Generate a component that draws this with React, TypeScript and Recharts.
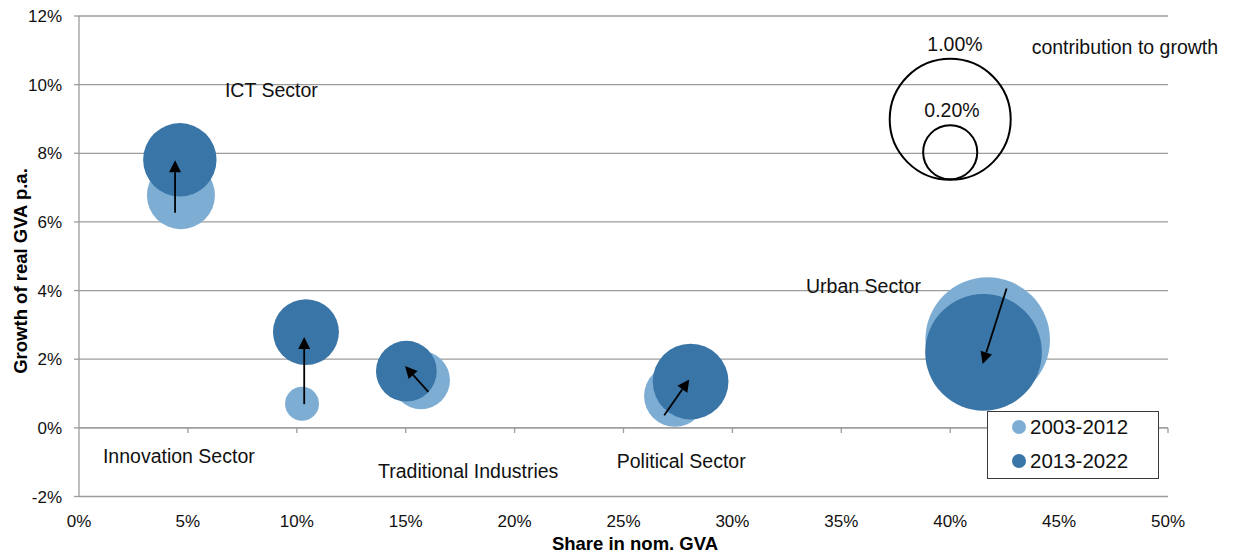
import React from 'react';
import {
  ScatterChart,
  Scatter,
  XAxis,
  YAxis,
  ZAxis,
  CartesianGrid,
  ReferenceLine,
  Legend,
} from 'recharts';

const FONT = '"Liberation Sans", Arial, sans-serif';
const GRID = '#9c9c9c';

// sectors, in the order of the bubbles from left to right
const sectors = ['ICT Sector', 'Innovation Sector', 'Traditional Industries', 'Political Sector', 'Urban Sector'];

// 2003-2012: share in nominal GVA (%), real growth p.a. (%), contribution to growth (pp)
const share0312 = [4.68, 10.24, 15.7, 27.36, 41.72];
const growth0312 = [6.78, 0.7, 1.39, 0.93, 2.57];
const contrib0312 = [0.316, 0.079, 0.23, 0.26, 1.06];

// 2013-2022
const share1322 = [4.63, 10.42, 15.03, 28.08, 41.53];
const growth1322 = [7.81, 2.79, 1.65, 1.35, 2.2];
const contrib1322 = [0.368, 0.297, 0.252, 0.392, 0.929];

// arrows (start -> tip) drawn over the bubbles
const arrowFromX = [4.41, 10.34, 16.04, 26.87, 42.59];
const arrowFromY = [6.27, 0.69, 1.05, 0.37, 4.06];
const arrowToX = [4.41, 10.34, 14.97, 28.02, 41.49];
const arrowToY = [7.8, 2.65, 1.8, 1.41, 1.86];

// sector name labels (left edge / vertical centre)
const labelX = [6.7, 1.1, 13.73, 24.69, 33.38];
const labelY = [9.84, -0.82, -1.25, -0.96, 4.13];

// bubble size key
const keySizes = [1.0, 0.2];
const keyText = ['1.00%', '0.20%'];
const keyX = [40, 40];
const keyY = [8.99, 8.03];
const keyTextX = [40.22, 40.08];
const keyTextY = [11.17, 9.26];
const keyTitle = 'contribution to growth';
const keyTitleX = 43.74;
const keyTitleY = 11.1;

const xTicks = [0, 5, 10, 15, 20, 25, 30, 35, 40, 45, 50];
const yTicks = [-2, 0, 2, 4, 6, 8, 10, 12];

const series = [
  { name: '2003-2012', color: '#7eadd4' },
  { name: '2013-2022', color: '#3975a6' },
];

const data0312 = sectors.map((s, i) => ({ name: s, x: share0312[i], y: growth0312[i], z: contrib0312[i] }));
const data1322 = sectors.map((s, i) => ({ name: s, x: share1322[i], y: growth1322[i], z: contrib1322[i] }));
const keyData = keySizes.map((z, i) => ({ x: keyX[i], y: keyY[i], z }));
const sectorLabels = sectors.map((s, i) => ({ x: labelX[i], y: labelY[i], label: s }));
const keyLabels = [
  ...keyText.map((t, i) => ({ x: keyTextX[i], y: keyTextY[i], label: t, anchor: 'middle' })),
  { x: keyTitleX, y: keyTitleY, label: keyTitle, anchor: 'start' },
];

// 1.00% bubble has a radius of ~60.5px -> area scale
const AREA_PER_UNIT = Math.PI * 60.5 * 60.5;

const Arrow = (props: any) => {
  const { x1, y1, x2, y2 } = props;
  const dx = x2 - x1;
  const dy = y2 - y1;
  const len = Math.hypot(dx, dy) || 1;
  const ux = dx / len;
  const uy = dy / len;
  const head = 12;
  const half = 6;
  const bx = x2 - ux * head;
  const by = y2 - uy * head;
  return (
    <g>
      <line x1={x1} y1={y1} x2={bx} y2={by} stroke="#000" strokeWidth={1.8} />
      <polygon
        points={`${x2},${y2} ${bx - uy * half},${by + ux * half} ${bx + uy * half},${by - ux * half}`}
        fill="#000"
      />
    </g>
  );
};

const LabelText = (props: any) => (
  <text
    x={props.cx}
    y={props.cy}
    textAnchor={props.payload.anchor || 'start'}
    dominantBaseline="central"
    fontFamily={FONT}
    fontSize={19.5}
    fill="#111"
  >
    {props.payload.label}
  </text>
);

const renderLegend = () => (
  <div
    style={{
      position: 'relative',
      width: 172,
      height: 68,
      boxSizing: 'border-box',
      border: '1.5px solid #3a3a3a',
      background: '#fff',
      fontFamily: FONT,
      fontSize: 20.5,
      color: '#111',
    }}
  >
    {series.map((s, i) => (
      <div
        key={s.name}
        style={{ position: 'absolute', left: 0, top: 3 + i * 34, height: 24, lineHeight: '24px', whiteSpace: 'nowrap' }}
      >
        <span
          style={{
            position: 'absolute',
            left: 24,
            top: 5,
            width: 14,
            height: 14,
            borderRadius: 7,
            background: s.color,
          }}
        />
        <span style={{ position: 'absolute', left: 42, top: 0 }}>{s.name}</span>
      </div>
    ))}
  </div>
);

const yTitle = () => (
  <text
    x={20}
    y={271}
    transform="rotate(-90, 20, 271)"
    textAnchor="middle"
    dominantBaseline="central"
    fontFamily={FONT}
    fontWeight="bold"
    fontSize={18.5}
    fill="#000"
  >
    Growth of real GVA p.a.
  </text>
);

const xTitle = () => (
  <text
    x={635}
    y={543}
    textAnchor="middle"
    dominantBaseline="central"
    fontFamily={FONT}
    fontWeight="bold"
    fontSize={18.5}
    fill="#000"
  >
    Share in nom. GVA
  </text>
);

const App: React.FC = () => {
  return (
    <div style={{ position: 'absolute', left: 0, top: 0, fontFamily: FONT }}>
      <ScatterChart width={1233} height={554} margin={{ top: 16, right: 65, bottom: 0, left: 0 }}>
        <CartesianGrid vertical={false} stroke={GRID} strokeWidth={1.3} />
        <XAxis
          type="number"
          dataKey="x"
          domain={[0, 50]}
          ticks={xTicks}
          tickFormatter={(v: number) => `${v}%`}
          axisLine={false}
          tickLine={false}
          tickSize={5}
          tickMargin={13}
          height={57.5}
          tick={{ fontSize: 17, fill: '#111', fontFamily: FONT }}
          label={xTitle}
        />
        <YAxis
          type="number"
          dataKey="y"
          domain={[-2, 12]}
          ticks={yTicks}
          tickFormatter={(v: number) => `${v}%`}
          axisLine={{ stroke: GRID, strokeWidth: 1.3 }}
          tickLine={{ stroke: GRID, strokeWidth: 1.3 }}
          tickSize={5}
          tickMargin={12}
          width={79}
          tick={{ fontSize: 17, fill: '#111', fontFamily: FONT }}
          label={yTitle}
        />
        <ZAxis type="number" dataKey="z" domain={[0, 2]} range={[0, 2 * AREA_PER_UNIT]} />
        <ReferenceLine y={0} stroke={GRID} strokeWidth={1.3} />
        {xTicks
          .filter((t) => t > 0)
          .map((t) => (
            <ReferenceLine
              key={`tick-${t}`}
              segment={[
                { x: t, y: 0 },
                { x: t, y: -0.15 },
              ]}
              stroke={GRID}
              strokeWidth={1.3}
            />
          ))}
        <Scatter
          name={series[0].name}
          data={data0312}
          fill={series[0].color}
          isAnimationActive={false}
        />
        <Scatter
          name={series[1].name}
          data={data1322}
          fill={series[1].color}
          isAnimationActive={false}
        />
        <Scatter
          name="key"
          data={keyData}
          fill="none"
          stroke="#000"
          strokeWidth={2}
          legendType="none"
          isAnimationActive={false}
        />
        <Scatter
          name="labels"
          data={[...sectorLabels, ...keyLabels]}
          shape={LabelText}
          legendType="none"
          isAnimationActive={false}
        />
        {sectors.map((s, i) => (
          <ReferenceLine
            key={`arrow-${s}`}
            segment={[
              { x: arrowFromX[i], y: arrowFromY[i] },
              { x: arrowToX[i], y: arrowToY[i] },
            ]}
            shape={Arrow}
            zIndex={1000}
          />
        ))}
        <Legend
          layout="vertical"
          align="center"
          verticalAlign="middle"
          content={renderLegend}
          wrapperStyle={{ left: 987, top: 411, width: 172, height: 68 }}
        />
      </ScatterChart>
    </div>
  );
};

export default App;
